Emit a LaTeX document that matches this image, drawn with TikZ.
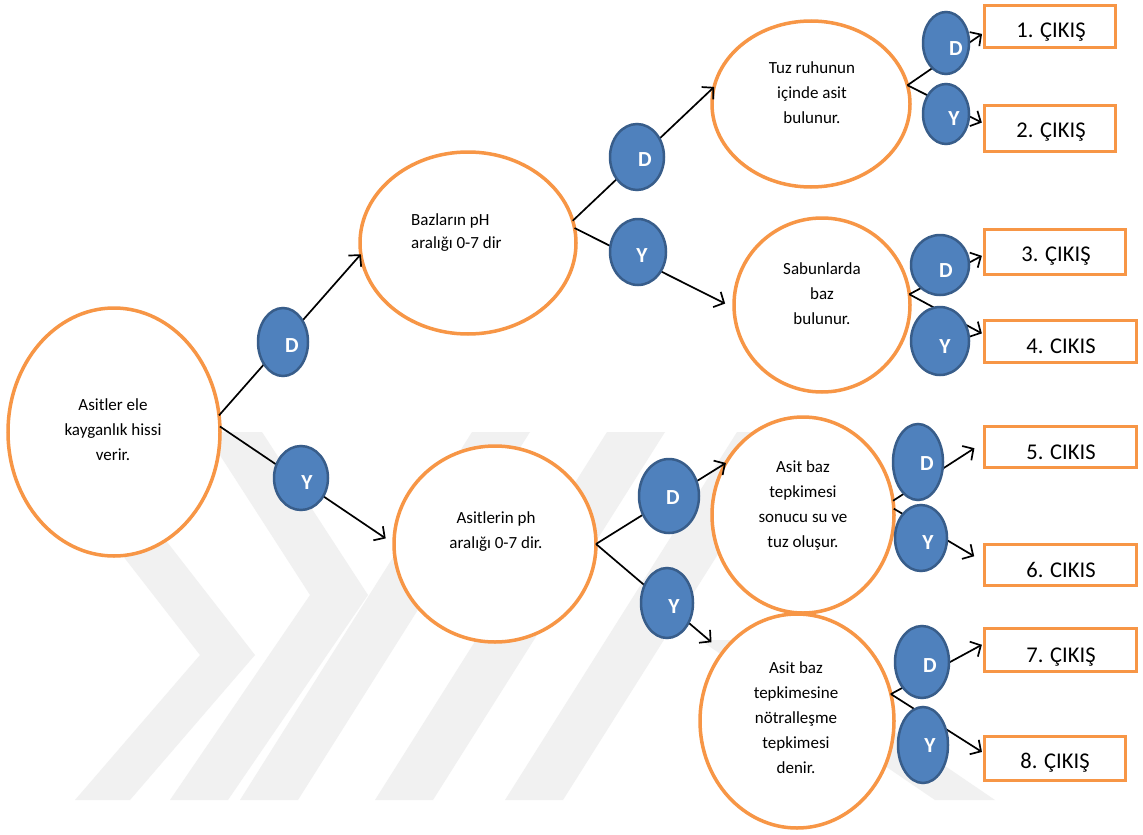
\documentclass[tikz,border=0pt]{standalone}
\usepackage{fontspec}
\setmainfont{Carlito}
\usetikzlibrary{arrows.meta,shapes.geometric}
\definecolor{orng}{HTML}{F79646}
\definecolor{bfill}{HTML}{4F81BD}
\definecolor{bline}{HTML}{385D8A}
\definecolor{wmark}{HTML}{F1F1F1}
\tikzset{
  qnode/.style={ellipse, draw=orng, line width=3.5pt, fill=white, inner sep=0pt, outer sep=0pt},
  dynode/.style={ellipse, draw=bline, line width=2.5pt, fill=bfill, inner sep=0pt, outer sep=0pt},
  dylab/.style={text=white, font=\fontsize{21.5}{21.5}\selectfont\bfseries, inner sep=0pt, anchor=base},
  qtext/.style={align=center, font=\fontsize{17}{25}\selectfont, inner sep=0pt},
  outbox/.style={rectangle, draw=orng, line width=3.5pt, fill=white, inner sep=0pt, outer sep=0pt},
  outtext/.style={font=\fontsize{22.5}{24}\selectfont, inner sep=0pt, anchor=base},
  conn/.style={line width=1.7pt, -{Straight Barb[length=8pt,width=17pt]}},
  wmband/.style={fill=wmark}
}
\begin{document}
\begin{tikzpicture}[x=1pt,y=-1pt]
\useasboundingbox (0,0) rectangle (1143,835);
\fill[white] (0,0) rectangle (1143,835);
% watermark
\fill[wmband] (205,432)--(262,432)--(368,595)--(228,800)--(170,800)--(310,595)--cycle;
\fill[wmband] (95,520)--(150,520)--(255,655)--(130,800)--(75,800)--(200,655)--cycle;
\fill[wmband] (240,800)--(298,800)--(530,432)--(472,432)--cycle;
\fill[wmband] (375,800)--(433,800)--(665,432)--(607,432)--cycle;
\fill[wmband] (505,800)--(563,800)--(795,432)--(737,432)--cycle;
\fill[wmband] (700,640)--(760,640)--(995,800)--(935,800)--cycle;

% question ellipses
\node[qnode, minimum width=212pt, minimum height=248pt] (e1) at (114,432) {};
\node[qnode, minimum width=216pt, minimum height=182pt] (e2) at (468,243) {};
\node[qnode, minimum width=198pt, minimum height=166pt] (e3) at (811,104) {};
\node[qnode, minimum width=176pt, minimum height=174pt] (e4) at (822,305) {};
\node[qnode, minimum width=202pt, minimum height=196pt] (e5) at (495,544) {};
\node[qnode, minimum width=182pt, minimum height=196pt] (e6) at (803,515) {};
\node[qnode, minimum width=194pt, minimum height=214pt] (e7) at (797,721) {};

\node[qtext] (te1) at (113,430) {Asitler ele\\kayganlık hissi\\verir.};
\node[qtext, align=left, anchor=west, font=\fontsize{17}{23}\selectfont] (te2) at (411,232.5) {Bazların pH\\aralığı 0-7 dir};
\node[qtext] (te3) at (812,93) {Tuz ruhunun\\içinde asit\\bulunur.};
\node[qtext] (te4) at (822,294) {Sabunlarda\\baz\\bulunur.};
\node[qtext] (te5) at (496,532) {Asitlerin ph\\aralığı 0-7 dir.};
\node[qtext] (te6) at (803,505.5) {Asit baz\\tepkimesi\\sonucu su ve\\tuz oluşur.};
\node[qtext] (te7) at (796,718) {Asit baz\\tepkimesine\\nötralleşme\\tepkimesi\\denir.};

% output boxes
\node[outbox, minimum width=131pt, minimum height=42pt] (b1) at (1050,26.5) {};
\node[outbox, minimum width=131pt, minimum height=46pt] (b2) at (1050,128.5) {};
\node[outbox, minimum width=141pt, minimum height=45pt] (b3) at (1055,252) {};
\node[outbox, minimum width=152pt, minimum height=42pt] (b4) at (1060.5,341.5) {};
\node[outbox, minimum width=152pt, minimum height=41pt] (b5) at (1060.5,447) {};
\node[outbox, minimum width=152pt, minimum height=41pt] (b6) at (1060.5,565) {};
\node[outbox, minimum width=152pt, minimum height=43pt] (b7) at (1060.5,650) {};
\node[outbox, minimum width=141pt, minimum height=44pt] (b8) at (1055,758.5) {};

\node[outtext] (tb1) at (1051,37) {1. ÇIKIŞ};
\node[outtext] (tb2) at (1051,137) {2. ÇIKIŞ};
\node[outtext] (tb3) at (1056,261) {3. ÇIKIŞ};
\node[outtext] (tb4) at (1061,353) {4. CIKIS};
\node[outtext] (tb5) at (1061,459) {5. CIKIS};
\node[outtext] (tb6) at (1061,577) {6. CIKIS};
\node[outtext] (tb7) at (1061,662) {7. ÇIKIŞ};
\node[outtext] (tb8) at (1055,768) {8. ÇIKIŞ};

% connectors
\draw[conn] (e1.9) -- (e2.186);
\draw[conn, shorten >=10pt] (e1.3) -- (e5.180);
\draw[conn] (e2.12) -- (e3.170);
\draw[conn, shorten >=10pt] (e2.8) -- (e4.182);
\draw[conn, shorten >=3pt] (e3.11) -- (b1.185);
\draw[conn, shorten >=3pt] (e3.11) -- (b2.176);
\draw[conn, shorten >=3pt] (e4.7) -- (b3.182);
\draw[conn, shorten >=3pt] (e4.7) -- (b4.175);
\draw[conn] (e5.east) -- (e6.146);
\draw[conn, shorten >=15pt] (e5.east) -- (e7.137);
\draw[conn, shorten >=12pt] (e6.9) -- (b5.176);
\draw[conn, shorten >=12pt] (e6.4) -- (b6.178);
\draw[conn, shorten >=3pt] (e7.16) -- (b7.175);
\draw[conn, shorten >=3pt] (e7.16) -- (b8.176);

% D / Y circles
\node[dynode, minimum width=50pt, minimum height=68pt] (d1) at (283,342) {};
\node[dynode, minimum width=54pt, minimum height=64pt] (y1) at (301,478) {};
\node[dynode, minimum width=54pt, minimum height=66pt] (d2) at (637,157) {};
\node[dynode, minimum width=56pt, minimum height=66pt] (y2) at (638,252) {};
\node[dynode, minimum width=46pt, minimum height=62pt] (d3) at (946,43) {};
\node[dynode, minimum width=46pt, minimum height=60pt] (y3) at (946,114) {};
\node[dynode, minimum width=58pt, minimum height=60pt] (d4) at (940,265) {};
\node[dynode, minimum width=58pt, minimum height=68pt] (y4) at (940,341) {};
\node[dynode, minimum width=60pt, minimum height=74pt] (d5) at (669,496) {};
\node[dynode, minimum width=52pt, minimum height=70pt] (y5) at (667,603) {};
\node[dynode, minimum width=50pt, minimum height=76pt] (d6) at (918,462) {};
\node[dynode, minimum width=52pt, minimum height=66pt] (y6) at (921,538) {};
\node[dynode, minimum width=54pt, minimum height=72pt] (d7) at (922,662) {};
\node[dynode, minimum width=50pt, minimum height=76pt] (y7) at (923,745) {};

\node[dylab] (ld1) at (292,352) {D};
\node[dylab] (ly1) at (307,489) {Y};
\node[dylab] (ld2) at (645,166) {D};
\node[dylab] (ly2) at (642,262) {Y};
\node[dylab] (ld3) at (956,55) {D};
\node[dylab] (ly3) at (954,125) {Y};
\node[dylab] (ld4) at (946,277) {D};
\node[dylab] (ly4) at (945,353) {Y};
\node[dylab] (ld5) at (673,504) {D};
\node[dylab] (ly5) at (674,613) {Y};
\node[dylab] (ld6) at (927,470) {D};
\node[dylab] (ly6) at (928,549) {Y};
\node[dylab] (ld7) at (930,672) {D};
\node[dylab] (ly7) at (930,752) {Y};
\end{tikzpicture}
\end{document}
